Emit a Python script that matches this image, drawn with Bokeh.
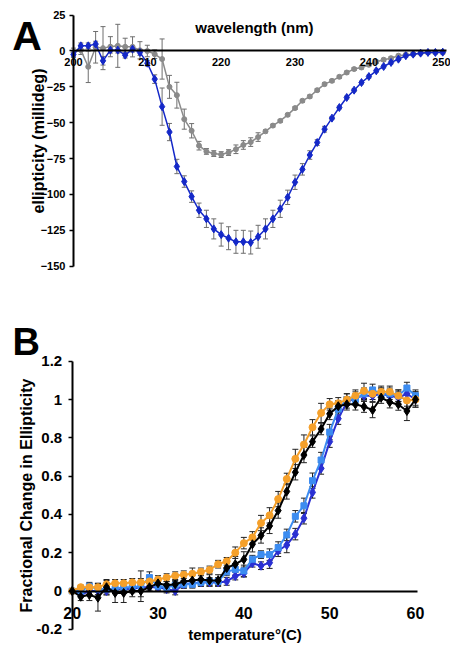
from bokeh.plotting import figure
from bokeh.layouts import column
from bokeh.models import ColumnDataSource, Whisker, TeeHead, Label, FixedTicker, Range1d
from bokeh.embed import file_html
from bokeh.resources import INLINE

FONT = "Liberation Sans"

# ---------------- Panel A data ----------------
wavelength = list(range(200, 251))
gray_vals = [-1, 0.6, -11, 2.6, 2, 3, 3.6, 2.9, 2.9, 0.5,
             0, -2.2, -5.6, -25, -30.8, -47.5, -55.6, -66, -70, -71.5,
             -72.2, -70.8, -68.5, -65.5, -63.5, -60, -56, -52, -48.7, -44.5,
             -39.8, -34.7, -31.7, -27.3, -23.1, -20.8, -18, -15, -12.6, -11.5,
             -9.6, -7.5, -6.1, -5, -3.3, -2.6, -2.2, -1.5, -1, -1, -1]
gray_err = [3, 3, 11, 11, 15, 7, 15, 6, 7, 6,
            4, 3, 14, 8, 9, 7, 5, 3, 2, 2,
            2, 2, 3, 3, 3, 3] + [1] * 25
blue_vals = [-2.5, 3.6, 3.6, 4.8, -6.8, 0.6, 0.6, -2.9, 1.3, -1,
             -8.5, -19.6, -38.8, -56.5, -80.5, -91, -101.5, -111, -117, -124,
             -128, -130.5, -133, -133, -133.5, -129.5, -124, -117, -110, -102,
             -91.5, -82.5, -72.5, -63.8, -54.5, -46.8, -39.4, -32.4, -27.3, -22,
             -17.8, -13.8, -10.8, -8, -5.7, -3.3, -2.2, -1.5, -1, -1, -0.8]
blue_err = [2, 2, 2, 2, 3, 2, 2, 2, 2, 2,
            2, 3, 13, 6, 5, 4, 4, 5, 6, 7,
            8, 8, 8, 8, 8, 8, 7, 6, 6, 5,
            5, 4, 3, 2, 2] + [1] * 16
a_yticks = [25, 0, -25, -50, -75, -100, -125, -150]
a_xticks = [200, 210, 220, 230, 240, 250]

# ---------------- Panel B data ----------------
temperature = list(range(20, 61))
orange_vals = [0.0, 0.02, 0.02, 0.02, 0.035, 0.04, 0.04, 0.045, 0.045, 0.05,
               0.06, 0.07, 0.08, 0.085, 0.09, 0.10, 0.11, 0.14, 0.155, 0.20,
               0.25, 0.28, 0.355, 0.395, 0.48, 0.585, 0.69, 0.765, 0.855, 0.93,
               0.975, 0.98, 1.0, 1.02, 1.045, 1.03, 1.04, 1.04, 1.02, 0.995, 1.0]
orange_err = [0, 0.01, 0.02, 0.02, 0.02, 0.02, 0.02, 0.02, 0.02, 0.02,
              0.02, 0.02, 0.02, 0.02, 0.03, 0.02, 0.02, 0.02, 0.02, 0.03,
              0.03, 0.03, 0.04, 0.04, 0.04, 0.03, 0.05, 0.05, 0.04, 0.05,
              0.03, 0.03, 0.03, 0.03, 0.04, 0.03, 0.03, 0.03, 0.03, 0.03, 0.04]
black_vals = [0.0, -0.03, -0.02, -0.035, 0.02, -0.01, -0.01, 0.0, 0.0, 0.02,
              0.04, 0.03, 0.035, 0.05, 0.055, 0.06, 0.055, 0.055, 0.12, 0.14,
              0.165, 0.244, 0.29, 0.34, 0.42, 0.52, 0.62, 0.71, 0.78, 0.846,
              0.925, 0.965, 0.975, 0.975, 0.963, 0.945, 1.01, 0.986, 0.974, 0.94, 1.0]
black_err = [0, 0.02, 0.03, 0.07, 0.04, 0.05, 0.05, 0.03, 0.03, 0.02,
             0.03, 0.02, 0.02, 0.03, 0.03, 0.03, 0.03, 0.03, 0.03, 0.04,
             0.04, 0.04, 0.04, 0.04, 0.04, 0.04, 0.04, 0.04, 0.03, 0.03,
             0.03, 0.03, 0.03, 0.03, 0.03, 0.04, 0.03, 0.03, 0.03, 0.05, 0.04]
lightblue_vals = [0.0, 0.0, 0.025, 0.01, 0.01, 0.01, 0.02, 0.02, 0.025, 0.07,
                  0.025, 0.02, 0.03, 0.035, 0.035, 0.045, 0.05, 0.05, 0.10, 0.113,
                  0.105, 0.166, 0.19, 0.19, 0.227, 0.293, 0.39, 0.445, 0.576, 0.684,
                  0.83, 0.95, 1.0, 1.0, 1.03, 1.05, 1.03, 1.03, 1.02, 1.06, 1.02]
lightblue_err = [0, 0.01, 0.02, 0.03, 0.02, 0.02, 0.02, 0.02, 0.08, 0.03,
                 0.02, 0.02, 0.02, 0.02, 0.02, 0.02, 0.02, 0.02, 0.02, 0.03,
                 0.03, 0.02, 0.02, 0.03, 0.03, 0.03, 0.03, 0.04, 0.04, 0.04,
                 0.04, 0.03, 0.03, 0.03, 0.03, 0.03, 0.03, 0.03, 0.03, 0.03, 0.03]
darkblue_vals = [0.0, -0.02, 0.0, 0.0, 0.0, 0.01, 0.01, 0.01, 0.02, 0.02,
                 0.02, 0.01, 0.0, 0.035, 0.04, 0.045, 0.045, 0.045, 0.05, 0.078,
                 0.093, 0.145, 0.132, 0.148, 0.21, 0.24, 0.297, 0.38, 0.515, 0.64,
                 0.78, 0.90, 0.985, 1.01, 1.02, 1.02, 1.03, 1.02, 1.01, 1.03, 1.0]
darkblue_err = [0, 0.01, 0.02, 0.02, 0.02, 0.02, 0.02, 0.02, 0.02, 0.02,
                0.02, 0.02, 0.02, 0.02, 0.02, 0.02, 0.02, 0.02, 0.02, 0.02,
                0.02, 0.02, 0.02, 0.03, 0.03, 0.04, 0.03, 0.03, 0.03, 0.03,
                0.03, 0.03, 0.03, 0.03, 0.03, 0.03, 0.03, 0.03, 0.03, 0.03, 0.03]
b_yticks = [-0.2, 0, 0.2, 0.4, 0.6, 0.8, 1, 1.2]
b_ylabels = ["-0.2", "0", "0.2", "0.4", "0.6", "0.8", "1", "1.2"]
b_xticks = [20, 30, 40, 50, 60]


def style_axes(p, xtick_size, ytick_size, label_size):
    for ax, ts in ((p.xaxis[0], xtick_size), (p.yaxis[0], ytick_size)):
        ax.axis_line_width = 2
        ax.axis_line_color = "black"
        ax.major_tick_line_color = "black"
        ax.major_tick_line_width = 1.5
        ax.minor_tick_line_color = None
        ax.major_label_text_font = FONT
        ax.major_label_text_font_style = "bold"
        ax.major_label_text_font_size = ts
        ax.major_label_text_color = "black"
        ax.axis_label_text_font = FONT
        ax.axis_label_text_font_style = "bold"
        ax.axis_label_text_font_size = label_size
        ax.axis_label_text_color = "black"
    p.xgrid.visible = False
    p.ygrid.visible = False
    p.outline_line_color = None


def add_series(p, x, y, err, color, marker, size, err_color, lw=1.5, head=5):
    lo = [v - e for v, e in zip(y, err)]
    hi = [v + e for v, e in zip(y, err)]
    src = ColumnDataSource(dict(x=x, y=y, lower=lo, upper=hi))
    w = Whisker(source=src, base="x", lower="lower", upper="upper",
                line_color=err_color, line_width=1,
                lower_head=TeeHead(size=head, line_color=err_color, line_width=1),
                upper_head=TeeHead(size=head, line_color=err_color, line_width=1))
    p.add_layout(w)
    p.line("x", "y", source=src, line_color=color, line_width=lw)
    p.scatter("x", "y", source=src, marker=marker, size=size,
              fill_color=color, line_color=color)


# ---------------- Panel A ----------------
pA = figure(width=450, height=305, output_backend="svg", toolbar_location=None,
            x_range=Range1d(190.12, 251.05), y_range=Range1d(-177.4, 35.2),
            min_border=0)
style_axes(pA, "11px", "11px", "16px")
pA.xaxis.fixed_location = 0
pA.xaxis.bounds = (200, 250.5)
pA.xaxis.ticker = FixedTicker(ticks=a_xticks)
pA.xaxis.major_tick_out = 0
pA.xaxis.major_tick_in = 0
pA.xaxis.major_label_standoff = 7
pA.yaxis.fixed_location = 200
pA.yaxis.bounds = (-150, 25)
pA.yaxis.ticker = FixedTicker(ticks=a_yticks)
pA.yaxis.major_tick_out = 4
pA.yaxis.major_tick_in = 0
pA.yaxis.major_label_standoff = 4
pA.yaxis.axis_label = "ellipticity (millideg)"
pA.yaxis.axis_label_standoff = -9

add_series(pA, wavelength, gray_vals, gray_err, "#8a8a8a", "circle", 5, "#6e6e6e")
add_series(pA, wavelength, blue_vals, blue_err, "#1428c8", "diamond", 8, "#6e6e6e")

pA.add_layout(Label(x=224.5, y=16.4, text="wavelength (nm)", text_font=FONT,
                    text_font_style="bold", text_font_size="15px",
                    text_align="center", text_baseline="middle", text_color="black"))
pA.add_layout(Label(x=191.7, y=10.5, text="A", text_font=FONT, text_font_style="bold",
                    text_font_size="41px", text_align="left",
                    text_baseline="alphabetic", text_color="black"))

# ---------------- Panel B ----------------
pB = figure(width=450, height=345, output_backend="svg", toolbar_location=None,
            x_range=Range1d(11.646, 64.078), y_range=Range1d(-0.3107, 1.4909),
            min_border=0)
style_axes(pB, "16px", "15px", "16px")
pB.xaxis.fixed_location = 0
pB.xaxis.bounds = (20, 60.2)
pB.xaxis.ticker = FixedTicker(ticks=b_xticks)
pB.xaxis.major_tick_out = 0
pB.xaxis.major_tick_in = 0
pB.xaxis.major_label_standoff = 16
pB.xaxis.axis_label = "temperature°(C)"
pB.xaxis.axis_label_standoff = 3
pB.xaxis.axis_label_text_font_size = "15px"
pB.yaxis.fixed_location = 20
pB.yaxis.bounds = (-0.2, 1.2)
pB.yaxis.ticker = FixedTicker(ticks=b_yticks)
pB.yaxis.major_label_overrides = {t: s for t, s in zip(b_yticks, b_ylabels)}
pB.yaxis.major_tick_out = 4
pB.yaxis.major_tick_in = 0
pB.yaxis.major_label_standoff = 6
pB.yaxis.axis_label = "Fractional Change in Ellipticity"
pB.yaxis.axis_label_standoff = -1

add_series(pB, temperature, darkblue_vals, darkblue_err, "#2a30d2", "diamond", 9, "#222222", lw=2, head=6)
add_series(pB, temperature, lightblue_vals, lightblue_err, "#3c8cf0", "square", 6, "#222222", lw=2, head=6)
add_series(pB, temperature, orange_vals, orange_err, "#f5a02a", "circle", 7, "#222222", lw=2, head=6)
add_series(pB, temperature, black_vals, black_err, "#000000", "diamond", 9, "#222222", lw=2, head=6)

pB.add_layout(Label(x=13.04, y=1.30, text="B", text_font=FONT, text_font_style="bold",
                    text_font_size="38px", text_align="left",
                    text_baseline="alphabetic", text_color="black"))

layout = column(pA, pB, spacing=0)
open("out.html", "w").write(file_html(layout, INLINE))
